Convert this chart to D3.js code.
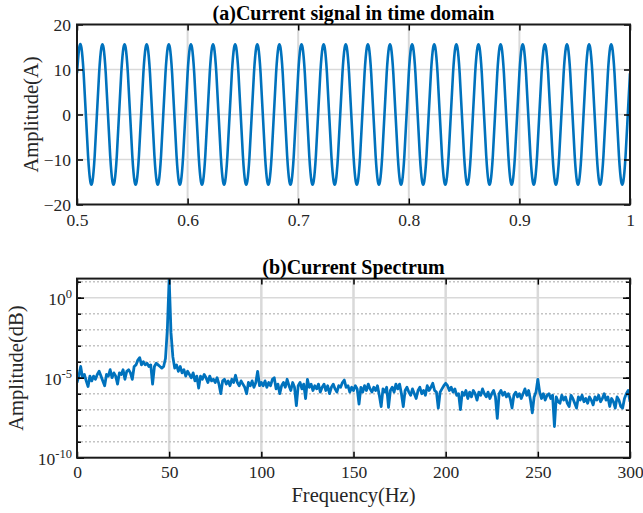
<!DOCTYPE html>
<html><head><meta charset="utf-8">
<script src="https://cdn.jsdelivr.net/npm/d3@7"></script>
<style>
body{margin:0;background:#fff}
svg{display:block}
text{font-family:"Liberation Serif","Times New Roman",serif}
</style>
</head><body>
<svg id="c" width="643" height="513"></svg>
<script>
// ---------- (a) time-domain current: samples every 2 ms from t = 0.5 s ----------
const timeStart = 0.5;
const timeStep = 0.002;
const currentValues = [
 9.17,14.84,14.84,9.17,0,-9.17,-14.84,-14.84,-9.17,0,
 9.17,14.84,14.84,9.17,0,-9.17,-14.84,-14.84,-9.17,0,
 9.17,14.84,14.84,9.17,0,-9.17,-14.84,-14.84,-9.17,0,
 9.17,14.84,14.84,9.17,0,-9.17,-14.84,-14.84,-9.17,0,
 9.17,14.84,14.84,9.17,0,-9.17,-14.84,-14.84,-9.17,0,
 9.17,14.84,14.84,9.17,0,-9.17,-14.84,-14.84,-9.17,0,
 9.17,14.84,14.84,9.17,0,-9.17,-14.84,-14.84,-9.17,0,
 9.17,14.84,14.84,9.17,0,-9.17,-14.84,-14.84,-9.17,0,
 9.17,14.84,14.84,9.17,0,-9.17,-14.84,-14.84,-9.17,0,
 9.17,14.84,14.84,9.17,0,-9.17,-14.84,-14.84,-9.17,0,
 9.17,14.84,14.84,9.17,0,-9.17,-14.84,-14.84,-9.17,0,
 9.17,14.84,14.84,9.17,0,-9.17,-14.84,-14.84,-9.17,0,
 9.17,14.84,14.84,9.17,0,-9.17,-14.84,-14.84,-9.17,0,
 9.17,14.84,14.84,9.17,0,-9.17,-14.84,-14.84,-9.17,0,
 9.17,14.84,14.84,9.17,0,-9.17,-14.84,-14.84,-9.17,0,
 9.17,14.84,14.84,9.17,0,-9.17,-14.84,-14.84,-9.17,0,
 9.17,14.84,14.84,9.17,0,-9.17,-14.84,-14.84,-9.17,0,
 9.17,14.84,14.84,9.17,0,-9.17,-14.84,-14.84,-9.17,0,
 9.17,14.84,14.84,9.17,0,-9.17,-14.84,-14.84,-9.17,0,
 9.17,14.84,14.84,9.17,0,-9.17,-14.84,-14.84,-9.17,0,
 9.17,14.84,14.84,9.17,0,-9.17,-14.84,-14.84,-9.17,0,
 9.17,14.84,14.84,9.17,0,-9.17,-14.84,-14.84,-9.17,0,
 9.17,14.84,14.84,9.17,0,-9.17,-14.84,-14.84,-9.17,0,
 9.17,14.84,14.84,9.17,0,-9.17,-14.84,-14.84,-9.17,0,
 9.17,14.84,14.84,9.17,0,-9.17,-14.84,-14.84,-9.17,0,
 9.17
];
const timeTicks = [0.5,0.6,0.7,0.8,0.9,1];
const timeTickLabels = ["0.5","0.6","0.7","0.8","0.9","1"];
const currentTicks = [20,10,0,-10,-20];
const timeGrid = [0.6,0.7,0.8,0.9];
const currentGrid = [10,0,-10];

// ---------- (b) spectrum: log10(amplitude) per 1 Hz bin, 0..300 Hz ----------
const freqStep = 1;
const spectrumExp = [
 -5.3,-4.9,-4.3,-5.0,-4.8,-5.2,-5.55,-4.9,-5.2,-4.9,
 -5.1,-4.8,-4.6,-4.9,-5.2,-5.5,-4.8,-4.9,-4.5,-5.0,
 -4.7,-4.9,-5.4,-4.7,-4.8,-4.5,-5.1,-4.6,-4.5,-4.7,
 -5.1,-4.3,-4.2,-3.9,-3.75,-4.2,-4.0,-4.2,-4.1,-4.3,
 -4.2,-5.4,-4.3,-4.1,-4.2,-4.3,-4.4,-4.3,-3.8,-2.0,
 1.19,-2.2,-3.7,-4.4,-4.2,-4.6,-4.3,-4.7,-4.5,-4.9,
 -4.6,-4.8,-5.0,-4.7,-5.2,-4.9,-5.65,-4.9,-5.1,-4.8,
 -5.0,-5.3,-4.9,-5.2,-5.1,-5.3,-5.0,-5.4,-6.0,-5.2,
 -5.1,-5.4,-5.2,-5.5,-5.1,-5.3,-4.85,-5.3,-5.5,-5.2,
 -5.4,-5.6,-6.0,-5.3,-5.5,-5.2,-5.6,-5.3,-4.6,-5.5,
 -5.3,-5.5,-5.2,-5.6,-5.3,-5.5,-5.1,-5.0,-5.7,-5.4,
 -6.0,-5.5,-5.3,-5.6,-5.1,-5.5,-5.8,-5.3,-5.6,-6.75,
 -5.5,-5.3,-5.7,-5.4,-6.3,-5.1,-5.6,-5.4,-5.8,-5.5,
 -5.7,-5.4,-5.9,-5.6,-5.4,-5.8,-5.5,-6.0,-5.6,-5.4,
 -5.7,-5.9,-5.5,-5.6,-5.3,-5.15,-5.6,-5.5,-5.9,-5.6,
 -5.8,-5.5,-5.7,-6.65,-5.6,-5.9,-5.5,-5.8,-5.4,-5.7,
 -5.9,-5.6,-5.8,-5.5,-6.1,-6.8,-5.7,-5.9,-5.6,-6.85,
 -5.8,-5.6,-5.9,-5.4,-5.7,-5.4,-6.0,-6.8,-5.8,-5.6,
 -5.9,-6.1,-5.7,-6.0,-6.3,-5.8,-5.6,-6.0,-5.8,-6.1,
 -5.5,-5.8,-5.6,-5.35,-5.8,-5.9,-6.9,-5.9,-5.7,-5.5,
 -5.35,-5.5,-5.8,-5.6,-5.9,-5.7,-6.1,-6.0,-7.0,-5.9,
 -6.1,-5.8,-6.3,-5.9,-6.2,-5.8,-6.0,-6.4,-5.9,-6.1,
 -5.7,-6.0,-6.2,-5.9,-6.3,-6.0,-5.8,-6.2,-7.54,-6.0,
 -5.8,-6.1,-5.9,-6.2,-6.0,-6.3,-6.9,-6.1,-5.9,-6.2,
 -6.0,-6.3,-6.0,-5.7,-6.1,-5.8,-6.4,-7.2,-6.2,-5.9,
 -5.1,-5.9,-6.3,-6.0,-6.4,-6.1,-6.0,-6.3,-6.1,-8.05,
 -6.2,-6.5,-6.6,-6.1,-6.4,-6.2,-6.6,-6.8,-6.1,-6.3,
 -6.6,-6.9,-6.2,-6.4,-6.1,-6.5,-6.3,-6.6,-6.2,-6.4,
 -6.7,-6.2,-6.4,-6.1,-6.5,-6.3,-6.0,-6.4,-6.2,-6.8,
 -6.3,-6.5,-6.9,-6.2,-6.4,-6.8,-6.9,-6.3,-6.0,-5.8,
 -6.5
];
const spectrumAmp = spectrumExp.map(e => Math.pow(10, e));
const freqTicks = [0,50,100,150,200,250,300];
const freqGrid = [50,100,150,200,250];
const ampMajorTicks = [1e0,1e-5,1e-10];
const ampMajorExpLabels = ["0","-5","-10"];
const ampDecades = [1e1,1e0,1e-1,1e-2,1e-3,1e-4,1e-5,1e-6,1e-7,1e-8,1e-9,1e-10];
const ampDottedGrid = [1e1,1e-1,1e-2,1e-3,1e-4,1e-6,1e-7,1e-8,1e-9];
const ampSolidGrid = [1e0,1e-5];
const spectrumMax = 15.6;

// ---------- drawing ----------
const svg = d3.select("#c");
const blue = "#0072BD";
const gridCol = "#d9d9d9";
const tickCol = "#262626";
const L = 77, R = 630;

function styleAxis(g, fontSize){
  g.select(".domain").remove();
  g.selectAll(".tick line").attr("stroke", "#000").attr("stroke-width", 1.5);
  g.selectAll(".tick text").attr("fill", tickCol).style("font-size", fontSize);
}

// ===== Panel (a) =====
const xa = d3.scaleLinear([0.5, 1], [L, R]);
const ya = d3.scaleLinear([-20, 20], [204.5, 24.5]);
const ga = svg.append("g");

ga.selectAll(".vg").data(timeGrid).join("line")
  .attr("x1", d => xa(d)).attr("x2", d => xa(d))
  .attr("y1", ya(-20)).attr("y2", ya(20))
  .attr("stroke", gridCol).attr("stroke-width", 2);
ga.selectAll(".hg").data(currentGrid).join("line")
  .attr("x1", L).attr("x2", R)
  .attr("y1", d => ya(d)).attr("y2", d => ya(d))
  .attr("stroke", gridCol).attr("stroke-width", 1.5);

ga.append("defs").append("clipPath").attr("id", "clipA")
  .append("rect").attr("x", L).attr("y", 24.5).attr("width", R - L).attr("height", 180);
ga.append("path").datum(currentValues)
  .attr("clip-path", "url(#clipA)")
  .attr("fill", "none").attr("stroke", blue).attr("stroke-width", 2.6)
  .attr("stroke-linejoin", "round")
  .attr("d", d3.line().x((d, i) => xa(timeStart + i * timeStep)).y(d => ya(d)).curve(d3.curveNatural));

ga.append("g").attr("transform", `translate(0,${ya(-20)})`)
  .call(d3.axisBottom(xa).tickValues(timeTicks).tickFormat((d, i) => timeTickLabels[i]).tickSizeInner(-6).tickSizeOuter(0).tickPadding(9))
  .call(g => styleAxis(g, "17.5px"));
ga.append("g").attr("transform", `translate(0,${ya(20)})`)
  .call(d3.axisTop(xa).tickValues(timeTicks).tickFormat("").tickSizeInner(-6).tickSizeOuter(0))
  .call(g => styleAxis(g, "17.5px"));
ga.append("g").attr("transform", `translate(${L},0)`)
  .call(d3.axisLeft(ya).tickValues(currentTicks).tickSizeInner(-6).tickSizeOuter(0).tickPadding(6))
  .call(g => styleAxis(g, "17.5px"));
ga.append("g").attr("transform", `translate(${R},0)`)
  .call(d3.axisRight(ya).tickValues(currentTicks).tickFormat("").tickSizeInner(-6).tickSizeOuter(0))
  .call(g => styleAxis(g, "17.5px"));

ga.append("rect").attr("x", L).attr("y", ya(20)).attr("width", R - L).attr("height", ya(-20) - ya(20))
  .attr("fill", "none").attr("stroke", "#1a1a1a").attr("stroke-width", 2);

ga.append("text").attr("x", (L + R) / 2).attr("y", 20).attr("text-anchor", "middle")
  .style("font-size", "20px").style("font-weight", "bold").attr("fill", "#000")
  .text("(a)Current signal in time domain");
ga.append("text").attr("transform", `translate(38,${(ya(20) + ya(-20)) / 2}) rotate(-90)`)
  .attr("text-anchor", "middle").style("font-size", "20.5px").attr("fill", tickCol)
  .text("Amplitude(A)");

// ===== Panel (b) =====
const TOPB = 278.6, BOTB = 457.7;
const xb = d3.scaleLinear([0, 300], [L, R]);
const yb = d3.scaleLog([1e-10, spectrumMax], [BOTB, TOPB]);
const gb = svg.append("g");

gb.selectAll(".vg").data(freqGrid).join("line")
  .attr("x1", d => xb(d)).attr("x2", d => xb(d))
  .attr("y1", TOPB).attr("y2", BOTB)
  .attr("stroke", gridCol).attr("stroke-width", 2.5);
gb.selectAll(".hd").data(ampDottedGrid).join("line")
  .attr("x1", L).attr("x2", R)
  .attr("y1", d => yb(d)).attr("y2", d => yb(d))
  .attr("stroke", "#c4c4c4").attr("stroke-width", 1.6).attr("stroke-dasharray", "2,2");
gb.selectAll(".hs").data(ampSolidGrid).join("line")
  .attr("x1", L).attr("x2", R)
  .attr("y1", d => yb(d)).attr("y2", d => yb(d))
  .attr("stroke", gridCol).attr("stroke-width", 1.6);

gb.append("defs").append("clipPath").attr("id", "clipB")
  .append("rect").attr("x", L).attr("y", TOPB).attr("width", R - L).attr("height", BOTB - TOPB);
gb.append("path").datum(spectrumAmp)
  .attr("clip-path", "url(#clipB)")
  .attr("fill", "none").attr("stroke", blue).attr("stroke-width", 2.8)
  .attr("stroke-linejoin", "round")
  .attr("d", d3.line().x((d, i) => xb(i * freqStep)).y(d => yb(d)));

gb.append("g").attr("transform", `translate(0,${BOTB})`)
  .call(d3.axisBottom(xb).tickValues(freqTicks).tickFormat(d3.format("d")).tickSizeInner(-6).tickSizeOuter(0).tickPadding(8))
  .call(g => styleAxis(g, "17.5px"));
gb.append("g").attr("transform", `translate(0,${TOPB})`)
  .call(d3.axisTop(xb).tickValues(freqTicks).tickFormat("").tickSizeInner(-6).tickSizeOuter(0))
  .call(g => styleAxis(g, "17.5px"));
// minor decade ticks left/right
gb.append("g").attr("transform", `translate(${L},0)`)
  .call(d3.axisLeft(yb).tickValues(ampDecades).tickFormat("").tickSizeInner(-4).tickSizeOuter(0))
  .call(g => styleAxis(g, "17.5px"));
gb.append("g").attr("transform", `translate(${R},0)`)
  .call(d3.axisRight(yb).tickValues(ampDecades).tickFormat("").tickSizeInner(-4).tickSizeOuter(0))
  .call(g => styleAxis(g, "17.5px"));
// major ticks with labels
gb.append("g").attr("transform", `translate(${L},0)`)
  .call(d3.axisLeft(yb).tickValues(ampMajorTicks).tickFormat("").tickSizeInner(-7).tickSizeOuter(0))
  .call(g => styleAxis(g, "17.5px"));
gb.append("g").attr("transform", `translate(${R},0)`)
  .call(d3.axisRight(yb).tickValues(ampMajorTicks).tickFormat("").tickSizeInner(-7).tickSizeOuter(0))
  .call(g => styleAxis(g, "17.5px"));
ampMajorTicks.forEach((v, i) => {
  const t = gb.append("text").attr("x", L - 5).attr("y", yb(v)).attr("dy", "0.42em")
    .attr("text-anchor", "end").attr("fill", tickCol).style("font-size", "17.5px");
  t.append("tspan").text("10");
  t.append("tspan").attr("dy", "-0.55em").style("font-size", "12.5px").text(ampMajorExpLabels[i]);
});

gb.append("rect").attr("x", L).attr("y", TOPB).attr("width", R - L).attr("height", BOTB - TOPB)
  .attr("fill", "none").attr("stroke", "#1a1a1a").attr("stroke-width", 2);

gb.append("text").attr("x", (L + R) / 2).attr("y", 274).attr("text-anchor", "middle")
  .style("font-size", "20px").style("font-weight", "bold").attr("fill", "#000")
  .text("(b)Current Spectrum");
gb.append("text").attr("transform", `translate(23,${(TOPB + BOTB) / 2}) rotate(-90)`)
  .attr("text-anchor", "middle").style("font-size", "20.5px").attr("fill", tickCol)
  .text("Amplitude(dB)");
gb.append("text").attr("x", (L + R) / 2).attr("y", 501.5).attr("text-anchor", "middle")
  .style("font-size", "20.5px").attr("fill", tickCol)
  .text("Frequency(Hz)");
</script>
</body></html>
